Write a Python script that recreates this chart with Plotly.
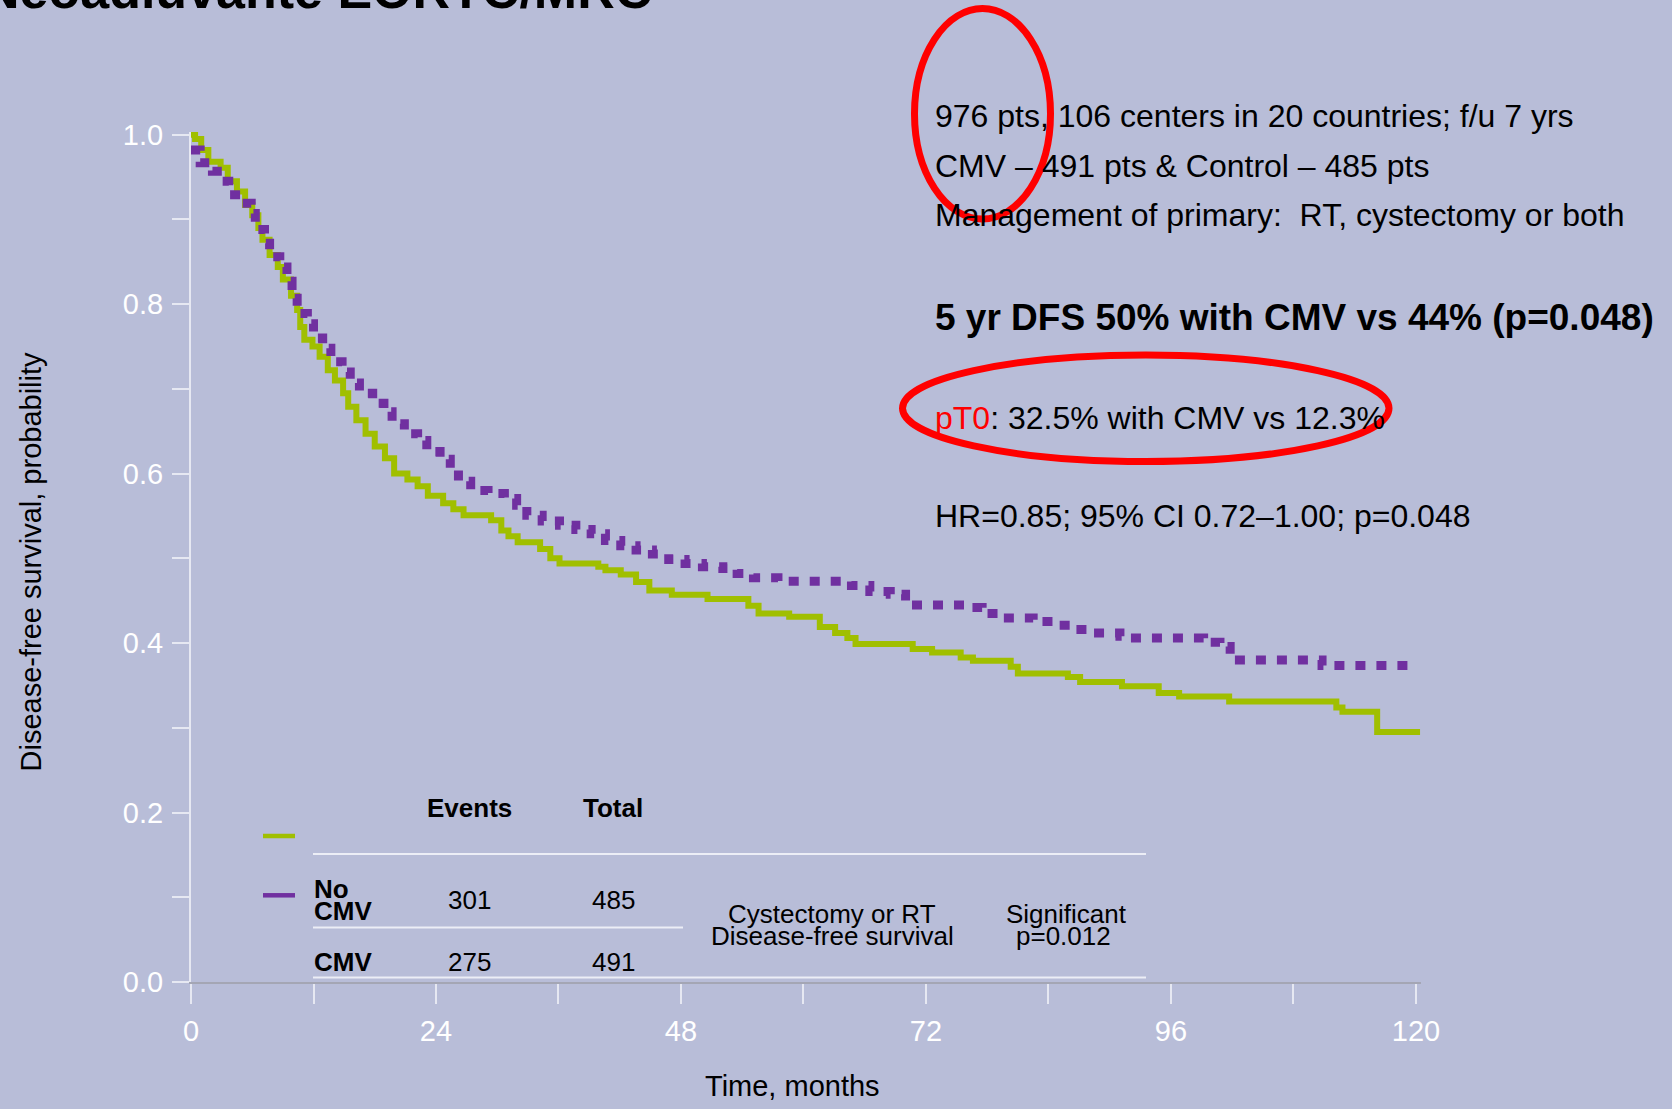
import plotly.graph_objects as go

# ---------------- data ----------------
control_t = [0, 0.4, 1.0, 1.7, 2.9, 3.6, 4.5, 5.3, 6.0, 6.6, 7.0, 7.7, 8.5, 9.0, 9.8, 10.4,
             10.7, 11.1, 11.9, 12.6, 13.4, 14.1, 14.9, 15.4, 16.2, 17.1, 18.0, 19.0, 19.9,
             21.2, 22.2, 23.2, 24.7, 25.7, 26.7, 29.4, 30.4, 31.1, 32.0, 34.2, 35.2, 36.1,
             39.9, 40.6, 42.1, 43.6, 44.9, 47.1, 50.6, 54.6, 55.6, 58.6, 61.6, 63.1, 64.3,
             65.1, 70.7, 72.6, 75.4, 76.6, 80.3, 81.0, 85.9, 87.1, 91.2, 94.8, 96.8, 101.7,
             112.2, 112.8, 116.2, 120.4]
control_s = [1.0, 0.995, 0.982, 0.968, 0.961, 0.945, 0.933, 0.917, 0.905, 0.89, 0.876, 0.858,
             0.844, 0.829, 0.81, 0.793, 0.773, 0.758, 0.750, 0.738, 0.722, 0.710, 0.695, 0.679,
             0.663, 0.647, 0.632, 0.618, 0.600, 0.593, 0.585, 0.574, 0.565, 0.558, 0.551,
             0.545, 0.533, 0.526, 0.519, 0.511, 0.500, 0.494, 0.490, 0.486, 0.481, 0.472,
             0.462, 0.457, 0.452, 0.444, 0.435, 0.431, 0.419, 0.412, 0.406, 0.399, 0.393,
             0.389, 0.383, 0.379, 0.372, 0.364, 0.360, 0.354, 0.349, 0.341, 0.337, 0.331,
             0.324, 0.319, 0.295, 0.295]

cmv_t = [0, 0.9, 2.1, 3.1, 3.7, 5.0, 5.9, 6.3, 7.2, 7.7, 8.7, 9.4, 9.9, 10.4, 11.4, 12.0,
         12.9, 13.7, 14.8, 15.6, 16.5, 17.8, 18.9, 19.7, 20.9, 22.2, 23.1, 24.4, 25.4, 26.2,
         27.4, 29.1, 30.7, 31.9, 32.9, 34.4, 36.1, 37.7, 39.2, 40.6, 42.1, 43.6, 45.2, 46.8,
         48.4, 50.1, 52.1, 53.5, 55.1, 57.5, 64.7, 66.5, 68.5, 70.0, 76.5, 77.5, 79.3, 82.5,
         84.5, 86.2, 88.0, 91.0, 92.0, 99.2, 100.8, 101.8, 110.8, 119.2]
cmv_s = [0.982, 0.967, 0.957, 0.945, 0.929, 0.919, 0.907, 0.888, 0.872, 0.856, 0.844, 0.827,
         0.807, 0.789, 0.777, 0.760, 0.748, 0.732, 0.720, 0.707, 0.695, 0.683, 0.673, 0.659,
         0.647, 0.639, 0.626, 0.617, 0.606, 0.591, 0.580, 0.5765, 0.5705, 0.5626, 0.551,
         0.544, 0.539, 0.534, 0.529, 0.521, 0.515, 0.510, 0.505, 0.4985, 0.494, 0.490, 0.488,
         0.482, 0.477, 0.473, 0.468, 0.461, 0.4575, 0.445, 0.442, 0.435, 0.4295, 0.4255,
         0.421, 0.416, 0.412, 0.408, 0.406, 0.401, 0.396, 0.380, 0.3735, 0.3735]

x_major = [0, 24, 48, 72, 96, 120]
x_minor = [12, 36, 60, 84, 108]
y_major = [0.0, 0.2, 0.4, 0.6, 0.8, 1.0]
y_major_text = ["0.0", "0.2", "0.4", "0.6", "0.8", "1.0"]
y_minor = [0.1, 0.3, 0.5, 0.7, 0.9]

table_groups = ["No CMV", "CMV"]
table_events = [301, 275]
table_totals = [485, 491]

info_lines = ["976 pts, 106 centers in 20 countries; f/u 7 yrs",
              "CMV \u2013 491 pts & Control \u2013 485 pts",
              "Management of primary:  RT, cystectomy or both"]
headline = "5 yr DFS 50% with CMV vs 44% (p=0.048)"
pt0_line = ": 32.5% with CMV vs 12.3%"
hr_line = "HR=0.85; 95% CI 0.72\u20131.00; p=0.048"

# ---------------- layout geometry ----------------
FW, FH = 1672, 1109
L, T, B = 191, 132, 982          # plot area pixel edges
W = 1230
H = B - T
XMAX = W / 10.208
YMAX = H / 847.3

BG = "#B8BDD8"
GREEN = "#A0BF00"
PURPLE = "#7030A0"
FONT = "Liberation Sans, Arial, sans-serif"


def xp(px):
    return (px - L) / W


def yp(py):
    return (B - py) / H


fig = go.Figure()
fig.add_trace(go.Scatter(x=control_t, y=control_s, mode="lines", line_shape="hv",
                         line=dict(color=GREEN, width=6), name="Control", hoverinfo="skip"))
fig.add_trace(go.Scatter(x=cmv_t, y=cmv_s, mode="lines", line_shape="hv",
                         line=dict(color=PURPLE, width=9, dash="10px,11px"), name="CMV",
                         hoverinfo="skip"))

ann = []


def txt(text, x, y, size, xanchor="left", color="black", bold=False, angle=0):
    if bold:
        text = "<b>" + text + "</b>"
    ann.append(dict(text=text, x=xp(x), y=yp(y), xref="paper", yref="paper",
                    xanchor=xanchor, yanchor="middle", showarrow=False, textangle=angle,
                    font=dict(family=FONT, size=size, color=color)))


# title (cut off at the top of the slide)
txt("Neoadiuvante EORTC/MRC", 654, -10, 52, xanchor="right", bold=True)

# right text block
for i, line in enumerate(info_lines):
    txt(line, 933, 116 + 49.5 * i, 32)
txt(headline, 933, 317, 37, bold=True)
txt("<span style='color:#FF0000'>pT0</span>" + pt0_line, 933, 417.5, 32)
txt(hr_line, 933, 515.5, 32)

# axis titles
txt("Disease-free survival, probability", 30, 561.5, 29, xanchor="center", angle=-90)
txt("Time, months", 792.5, 1085.5, 29, xanchor="center")

# table
txt("Events", 469.5, 807.5, 26, xanchor="center", bold=True)
txt("Total", 613, 807.5, 26, xanchor="center", bold=True)
txt("No", 312, 888.8, 26, bold=True)
txt("CMV", 312, 910.8, 26, bold=True)
txt(str(table_events[0]), 469, 899.7, 26, xanchor="center")
txt(str(table_totals[0]), 613, 899.7, 26, xanchor="center")
txt(table_groups[1], 312, 961.7, 26, bold=True)
txt(str(table_events[1]), 469, 961.7, 26, xanchor="center")
txt(str(table_totals[1]), 613, 961.7, 26, xanchor="center")
txt("Cystectomy or RT", 832, 913.5, 26, xanchor="center")
txt("Disease-free survival", 832.5, 935.7, 26, xanchor="center")
txt("Significant", 1066.5, 913.5, 26, xanchor="center")
txt("p=0.012", 1063, 935.7, 26, xanchor="center")

shapes = []


def seg(x0, y0, x1, y1, color, width):
    shapes.append(dict(type="line", xref="paper", yref="paper", x0=xp(x0), y0=yp(y0),
                       x1=xp(x1), y1=yp(y1), line=dict(color=color, width=width),
                       layer="above"))


LINEC = "#ECEEF6"
seg(313, 854, 1146, 854, LINEC, 2)
seg(313, 927.5, 683, 927.5, LINEC, 2)
seg(313, 977.5, 1146, 977.5, LINEC, 2)
seg(263, 836, 295, 836, GREEN, 4.5)
seg(263, 895.3, 295, 895.3, PURPLE, 4.5)


def ellipse(x0, y0, x1, y1):
    shapes.append(dict(type="circle", xref="paper", yref="paper", x0=xp(x0), y0=yp(y1),
                       x1=xp(x1), y1=yp(y0), line=dict(color="#FF0000", width=7),
                       fillcolor="rgba(0,0,0,0)", layer="above"))


ellipse(914.5, 8.5, 1050.5, 219)
ellipse(902.5, 355, 1389, 461.5)

TICKC = "#E6E8F2"
fig.update_layout(
    width=FW, height=FH,
    margin=dict(l=L, r=FW - L - W, t=T, b=FH - B, pad=0),
    paper_bgcolor=BG, plot_bgcolor=BG,
    showlegend=False,
    annotations=ann, shapes=shapes,
    xaxis=dict(range=[0, XMAX], tickmode="array", tickvals=x_major,
               ticktext=[str(v) for v in x_major],
               ticks="outside", ticklen=20, tickwidth=1.5, tickcolor=TICKC,
               minor=dict(tickmode="array", tickvals=x_minor, ticks="outside",
                          ticklen=20, tickwidth=1.5, tickcolor=TICKC),
               showline=True, linecolor="#A4A6B4", linewidth=2,
               showgrid=False, zeroline=False,
               tickfont=dict(family=FONT, size=29, color="white"),
               ticklabelstandoff=2),
    yaxis=dict(range=[0, YMAX], tickmode="array", tickvals=y_major, ticktext=y_major_text,
               ticks="outside", ticklen=17, tickwidth=1.5, tickcolor=TICKC,
               minor=dict(tickmode="array", tickvals=y_minor, ticks="outside",
                          ticklen=17, tickwidth=1.5, tickcolor=TICKC),
               showline=True, linecolor="#E6E8F2", linewidth=2,
               showgrid=False, zeroline=False,
               tickfont=dict(family=FONT, size=29, color="white"),
               ticklabelstandoff=3),
)

fig.write_html("out.html",
               config={"displayModeBar": False},
               post_script="document.body.style.margin='0px';"
                           "document.body.style.overflow='hidden';")
